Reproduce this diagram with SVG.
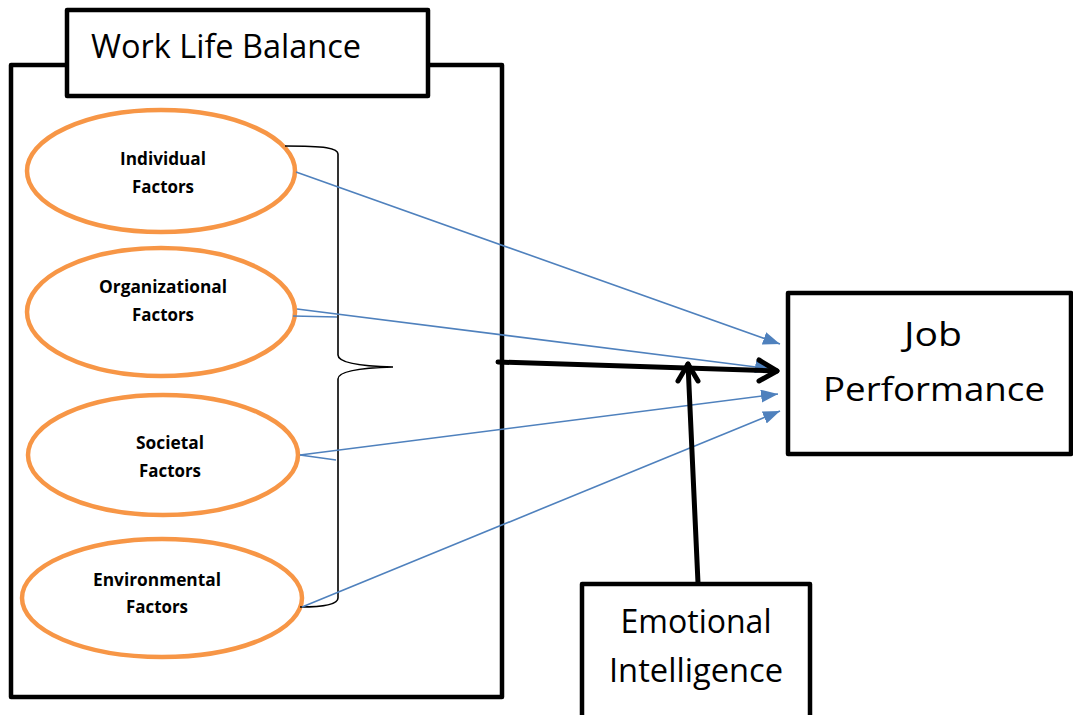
<svg xmlns="http://www.w3.org/2000/svg" width="1073" height="715" viewBox="0 0 1073 715">
<defs>
<style>
.box{fill:#fff;stroke:#000;stroke-width:4.5;stroke-linejoin:round}
.ell{fill:#fff;stroke:#F79646;stroke-width:4.5}
.lbl{font-family:"Open Sans","Liberation Sans",sans-serif;font-weight:bold;font-size:17.5px;fill:#000;text-anchor:middle}
.big{font-family:"Open Sans","Liberation Sans",sans-serif;font-size:33px;fill:#000}
.blue{fill:none;stroke:#4F81BD;stroke-width:1.6}
.thick{fill:none;stroke:#000;stroke-width:5;stroke-linecap:round;stroke-linejoin:round}
.brace{fill:none;stroke:#000;stroke-width:1.6}
</style>
<marker id="triB" viewBox="0 0 17 13" refX="17" refY="6.5" markerWidth="17" markerHeight="13" markerUnits="userSpaceOnUse" orient="auto">
<path d="M0,0 L17,6.5 L0,13 z" fill="#4F81BD"/>
</marker>
</defs>
<rect width="1073" height="715" fill="#fff"/>

<g id="wlb">
<rect class="box" x="11" y="65" width="491" height="632"/>
<rect class="box" x="67" y="10" width="361" height="86"/>
<text class="big" x="91" y="58" textLength="270" lengthAdjust="spacingAndGlyphs">Work Life Balance</text>
</g>

<g id="individual">
<ellipse class="ell" cx="161" cy="171" rx="134" ry="61"/>
<text class="lbl" x="163" y="165" textLength="86" lengthAdjust="spacingAndGlyphs">Individual</text>
<text class="lbl" x="163" y="193" textLength="62" lengthAdjust="spacingAndGlyphs">Factors</text>
</g>

<g id="organizational">
<ellipse class="ell" cx="161" cy="312" rx="134" ry="64"/>
<text class="lbl" x="163" y="293" textLength="128" lengthAdjust="spacingAndGlyphs">Organizational</text>
<text class="lbl" x="163" y="321" textLength="62" lengthAdjust="spacingAndGlyphs">Factors</text>
</g>

<g id="societal">
<ellipse class="ell" cx="163" cy="455" rx="135" ry="60"/>
<text class="lbl" x="170" y="449" textLength="68" lengthAdjust="spacingAndGlyphs">Societal</text>
<text class="lbl" x="170" y="477" textLength="62" lengthAdjust="spacingAndGlyphs">Factors</text>
</g>

<g id="environmental">
<ellipse class="ell" cx="162" cy="598" rx="140" ry="59"/>
<text class="lbl" x="157" y="586" textLength="128" lengthAdjust="spacingAndGlyphs">Environmental</text>
<text class="lbl" x="157" y="613" textLength="62" lengthAdjust="spacingAndGlyphs">Factors</text>
</g>

<g id="brace">
<path class="brace" d="M285,146 C325,146 338,148 338,154 L338,355 C338,362 355,366 393,367 C355,368 338,372 338,379 L338,598 C338,604 325,607 300,607"/>
</g>

<g id="job">
<rect class="box" x="788" y="293" width="283" height="161"/>
<text class="big" x="933" y="346" text-anchor="middle" textLength="58" lengthAdjust="spacingAndGlyphs">Job</text>
<text class="big" x="934" y="401" text-anchor="middle" textLength="222" lengthAdjust="spacingAndGlyphs">Performance</text>
</g>

<g id="emotional">
<rect class="box" x="582" y="584" width="228" height="140"/>
<text class="big" x="696" y="633" text-anchor="middle" textLength="151" lengthAdjust="spacingAndGlyphs">Emotional</text>
<text class="big" x="696" y="682" text-anchor="middle" textLength="174" lengthAdjust="spacingAndGlyphs">Intelligence</text>
</g>

<g id="connectors">
<line class="blue" x1="296" y1="172" x2="780" y2="344" marker-end="url(#triB)"/>
<line class="blue" x1="297" y1="309" x2="772" y2="369" marker-end="url(#triB)"/>
<line class="blue" x1="293" y1="316" x2="337" y2="317"/>
<line class="blue" x1="300" y1="455" x2="778" y2="394" marker-end="url(#triB)"/>
<line class="blue" x1="300" y1="455" x2="336" y2="460"/>
<line class="blue" x1="302" y1="607" x2="780" y2="411" marker-end="url(#triB)"/>
<line class="thick" x1="498" y1="362" x2="777" y2="371"/>
<polyline class="thick" points="759,360 777,371 759,381"/>
<line class="thick" x1="698" y1="583" x2="688" y2="364"/>
<polyline class="thick" points="678,381 688,364 698,381"/>
</g>
</svg>
